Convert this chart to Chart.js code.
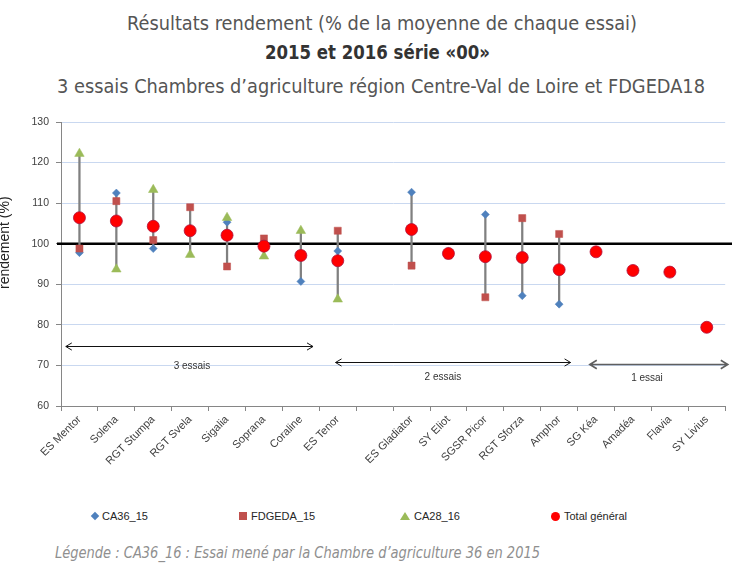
<!DOCTYPE html>
<html lang="fr">
<head>
<meta charset="utf-8">
<title>Résultats rendement 2015 et 2016</title>
<script src="https://cdn.jsdelivr.net/npm/chart.js@4.4.1/dist/chart.umd.min.js"></script>
<style>
  html, body { margin: 0; padding: 0; background: #fff; }
  body { width: 732px; height: 563px; position: relative; overflow: hidden;
         font-family: "Liberation Sans Narrow", "DejaVu Sans Condensed", "Liberation Sans", sans-serif; }
  .fit { position: absolute; white-space: nowrap; transform-origin: 0 50%; line-height: 1.1; }
  #t1 { font-size: 19px; color: #555; }
  #t2 { font-size: 19px; color: #333; font-weight: bold; }
  #t3 { font-size: 20px; color: #555; }
  #note { font-size: 16px; color: #8f8f8f; font-style: italic; }
  #wrap { position: absolute; left: 0; top: 100px; width: 732px; height: 400px; }
  .leg { position: absolute; top: 509px; height: 14px; display: flex; align-items: center;
         font: 11px "Liberation Sans", sans-serif; color: #262626; }
  .leg i { display: inline-block; margin-right: 4px; }
  .m-dia { width: 6px; height: 6px; background: #4f81bd; transform: rotate(45deg); margin-left: 1px; }
  .m-sq { width: 8px; height: 8px; background: #c0504d; }
  .m-tri { width: 0; height: 0; border-left: 5px solid transparent; border-right: 5px solid transparent;
           border-bottom: 8px solid #9bbb59; }
  .m-dot { width: 9px; height: 9px; border-radius: 50%; background: #ff0000; }
</style>
</head>
<body>
<div class="fit" id="t1" data-l="127" data-r="637" data-y="23">Résultats rendement (% de la moyenne de chaque essai)</div>
<div class="fit" id="t2" data-l="265" data-r="490" data-y="52">2015 et 2016 série «00»</div>
<div class="fit" id="t3" data-l="57" data-r="705" data-y="86">3 essais Chambres d’agriculture région Centre-Val de Loire et FDGEDA18</div>

<div id="wrap"><canvas id="chart" width="732" height="400"></canvas></div>

<div class="leg" style="left:91px"><i class="m-dia"></i>CA36_15</div>
<div class="leg" style="left:239px"><i class="m-sq"></i>FDGEDA_15</div>
<div class="leg" style="left:400px"><i class="m-tri"></i>CA28_16</div>
<div class="leg" style="left:551px"><i class="m-dot"></i>Total général</div>

<div class="fit" id="note" data-l="55" data-r="540" data-y="553">Légende : CA36_16 : Essai mené par la Chambre d’agriculture 36 en 2015</div>

<script>
// --- Données ---
const varieties = ["ES Mentor", "Solena", "RGT Stumpa", "RGT Svela", "Sigalia", "Soprana", "Coraline", "ES Tenor", "",
  "ES Gladiator", "SY Eliot", "SGSR Picor", "RGT Sforza", "Amphor", "SG Kéa", "Amadéa", "Flavia", "SY Livius"];
const ca36_15   = [97.8, 112.5, 98.8, 103.3, 105.3, 100.0, 90.7, 98.2, null, 112.7, 98.1, 107.2, 87.2, 85.1, null, null, null, null];
const fdgeda_15 = [98.8, 110.5, 100.9, 109.0, 94.4, 101.3, 97.4, 103.2, null, 94.6, 97.1, 86.8, 106.3, 102.4, null, null, null, null];
const ca28_16   = [122.2, 93.7, 113.3, 97.3, 106.4, 96.9, 103.2, 86.3, null, null, null, null, null, null, null, null, null, null];
const total     = [106.4, 105.6, 104.3, 103.2, 102.1, 99.4, 97.1, 95.8, null, 103.5, 97.6, 96.8, 96.6, 93.6, 98.0, 93.4, 93.0, 79.4];
const yTicks = { min: 60, max: 130, step: 10 };
const reference = 100;

// groupes d'essais (indices de catégorie, valeur y)
const groups = [
  { text: "3 essais", from: -0.37, to: 6.33, y: 74.8, labelAt: 3.05, labelY: 69.9, heavy: false },
  { text: "2 essais", from: 6.94, to: 13.31, y: 70.8, labelAt: 9.85, labelY: 67.1, heavy: false },
  { text: "1 essai", from: 13.83, to: 17.57, y: 70.4, labelAt: 15.38, labelY: 66.8, heavy: true }
];

// min-max de chaque variété (traits gris)
const ranges = varieties.map((_, i) => {
  const v = [ca36_15[i], fdgeda_15[i], ca28_16[i]].filter(x => x !== null);
  return v.length > 1 ? [Math.min(...v), Math.max(...v)] : null;
});

// --- Titres ajustés en largeur ---
document.querySelectorAll(".fit").forEach(el => {
  const l = +el.dataset.l, r = +el.dataset.r, y = +el.dataset.y;
  const w = el.getBoundingClientRect().width;
  el.style.left = l + "px";
  el.style.top = (y - el.offsetHeight / 2) + "px";
  el.style.transform = `scaleX(${(r - l) / w})`;
});

// --- Plugin : ligne 100, flèches, titre axe ---
const extras = {
  id: "extras",
  beforeDatasetsDraw(chart) {
    const { ctx, chartArea, scales: { y } } = chart;
    const py = y.getPixelForValue(reference);
    ctx.save();
    ctx.strokeStyle = "#000";
    ctx.lineWidth = 2.5;
    ctx.beginPath();
    ctx.moveTo(chartArea.left - 4, py);
    ctx.lineTo(chart.width, py);
    ctx.stroke();
    ctx.restore();
  },
  afterDatasetsDraw(chart) {
    const { ctx, scales: { x, y } } = chart;
    ctx.save();
    groups.forEach(g => {
      const x1 = x.getPixelForValue(g.from), x2 = x.getPixelForValue(g.to);
      const py = Math.round(y.getPixelForValue(g.y)) + 0.5;
      const h = g.heavy ? 7 : 6;
      ctx.strokeStyle = g.heavy ? "#5f5f5f" : "#111";
      ctx.lineWidth = g.heavy ? 1.6 : 1;
      ctx.beginPath();
      ctx.moveTo(x1, py); ctx.lineTo(x2, py);
      ctx.moveTo(x1 + h, py - h * 0.6); ctx.lineTo(x1, py); ctx.lineTo(x1 + h, py + h * 0.6);
      ctx.moveTo(x2 - h, py - h * 0.6); ctx.lineTo(x2, py); ctx.lineTo(x2 - h, py + h * 0.6);
      ctx.stroke();
      ctx.fillStyle = "#333";
      ctx.font = '10px "Liberation Sans", sans-serif';
      ctx.textAlign = "center";
      ctx.textBaseline = "middle";
      ctx.fillText(g.text, x.getPixelForValue(g.labelAt), y.getPixelForValue(g.labelY));
    });
    // titre de l'axe (coupé au bord comme dans l'original)
    ctx.translate(9, y.getPixelForValue(reference) - 1);
    ctx.rotate(-Math.PI / 2);
    ctx.fillStyle = "#222";
    ctx.font = '14px "Liberation Sans", sans-serif';
    ctx.textAlign = "center";
    ctx.textBaseline = "alphabetic";
    ctx.fillText("rendement (%)", 0, 0);
    ctx.restore();
  }
};

Chart.defaults.font.family = '"Liberation Sans", sans-serif';

const pointSet = (label, data, style, color, radius, order) => ({
  type: "line", label, data, showLine: false, order,
  pointStyle: style, pointRadius: radius, pointHoverRadius: radius,
  pointBackgroundColor: color, pointBorderColor: color, pointBorderWidth: 0.5
});

new Chart(document.getElementById("chart"), {
  type: "line",
  data: {
    labels: varieties,
    datasets: [
      { type: "bar", label: "min-max", data: ranges, backgroundColor: "#808080",
        barThickness: 1.6, order: 10 },
      pointSet("CA36_15", ca36_15, "rectRot", "#4f81bd", 4, 4),
      pointSet("FDGEDA_15", fdgeda_15, "rect", "#c0504d", 5, 3),
      pointSet("CA28_16", ca28_16, "triangle", "#9bbb59", 5.5, 2),
      { ...pointSet("Total général", total, "circle", "#ff0000", 6, 1), pointBorderColor: "#b0103a", pointBorderWidth: 0.8 }
    ]
  },
  options: {
    responsive: false,
    animation: false,
    layout: { padding: { top: 22, right: 6, left: 0, bottom: 0 } },
    plugins: { legend: { display: false }, tooltip: { enabled: false } },
    scales: {
      x: {
        type: "category",
        offset: true,
        grid: { display: true, offset: true, drawOnChartArea: false, tickLength: 5, color: "#868686" },
        border: { color: "#868686" },
        ticks: { minRotation: 45, maxRotation: 45, autoSkip: false, color: "#404040", font: { size: 11 }, padding: 2 },
        afterFit(scale) { scale.height = 94; }
      },
      y: {
        min: yTicks.min, max: yTicks.max,
        grid: { color: "#c9d8f0", tickColor: "#868686", tickLength: 5 },
        border: { color: "#868686" },
        ticks: { stepSize: yTicks.step, color: "#404040", font: { size: 10.5 }, padding: 7 },
        afterFit(scale) { scale.width = 61; }
      }
    }
  },
  plugins: [extras]
});
</script>
</body>
</html>
